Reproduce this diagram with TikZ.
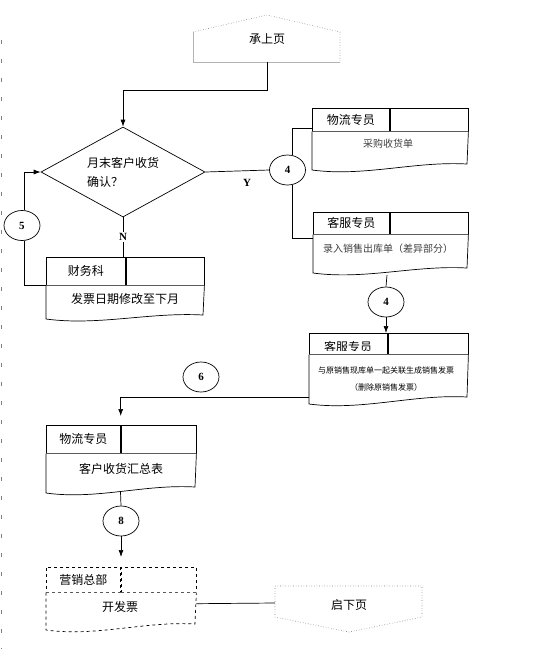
\documentclass[tikz,border=0pt]{standalone}
\usepackage{fontspec}
\setmainfont{Liberation Serif}
\newfontfamily\cjk{Noto Sans CJK SC}
\usetikzlibrary{shapes.geometric,arrows.meta}

\begin{document}
\begin{tikzpicture}[x=1pt,y=-1pt,line width=0.7pt,
    cell/.style={draw, anchor=north west, inner sep=0pt, font=\cjk\fontsize{12}{14}\selectfont},
    bodytext/.style={font=\cjk\fontsize{12}{14}\selectfont},
    smalltext/.style={font=\cjk\fontsize{10}{12}\selectfont, text=black!75},
    tinytext/.style={font=\cjk\fontsize{8}{17.5}\selectfont, align=center},
    conn/.style={draw, ellipse, minimum width=36pt, minimum height=30pt, inner sep=0pt, font=\bfseries\fontsize{11}{11}\selectfont},
    yn/.style={font=\bfseries\fontsize{11}{11}\selectfont},
    arr/.style={-{Latex[length=7pt,width=5pt]}},
    pageconn/.style={gray, dotted, line width=0.6pt}]

        \useasboundingbox (0,0) rectangle (535,649);

        %Margin
        \draw [gray, line width=0.8pt, dash pattern=on 4pt off 15pt] (1,40) -- (1,649);

        %From previous page
        \draw [gray!60, line width=0.8pt] (193,32) -- (193,62) -- (340,62);
        \draw [pageconn] (193,32) -- (267,15) -- (340,32) -- (340,62);
        \node [bodytext] (prevp) at (267,39) {承上页};
        \coordinate (prevb) at (267,62);

        %Decision
        \node [diamond, draw, minimum width=164pt, minimum height=90pt, inner sep=0pt] (dec) at (123,172) {};
        \node [font=\cjk\fontsize{12}{19}\selectfont, align=left] (dectxt) at (123,172) {月末客户收货\\确认？};

        %Logistics (purchase receipt)
        \node [cell, minimum width=77pt, minimum height=23pt] (wl1) at (312,108) {物流专员};
        \node [cell, minimum width=78pt, minimum height=23pt] (wl1e) at (wl1.north east) {};
        \draw [fill=white] (wl1.south west) -- (312,170) .. controls (364,177) and (415,161) .. (467,164) -- (wl1e.south east);
        \node [smalltext] (wl1t) at (388,144) {采购收货单};

        %Customer service (sales out)
        \node [cell, minimum width=76pt, minimum height=22pt] (kf1) at (313,212) {客服专员};
        \node [cell, minimum width=78pt, minimum height=22pt] (kf1e) at (kf1.north east) {};
        \draw [fill=white] (kf1.south west) -- (313,273) .. controls (365,280) and (415,265) .. (467,268) -- (kf1e.south east);
        \node [smalltext] (kf1t) at (388,249) {录入销售出库单（差异部分）};
        \coordinate (kf1b) at (387,275);

        %Customer service (invoice)
        \node [cell, minimum width=78pt, minimum height=21pt] (kf2) at (309,333) {};
        \node [cell, minimum width=80pt, minimum height=21pt] (kf2e) at (kf2.north east) {};
        \begin{scope}
          \clip (309,333) rectangle (387,350);
          \node [bodytext] (kf2n) at (348,346.5) {客服专员};
        \end{scope}
        \draw [fill=white] (kf2.south west) -- (309,404) .. controls (362,411) and (414,394) .. (467,397) -- (kf2e.south east);
        \node [tinytext] (kf2t) at (386,379) {与原销售现库单一起关联生成销售发票\\（删除原销售发票）};

        %Finance
        \node [cell, minimum width=79pt, minimum height=28pt] (cw) at (46,257) {财务科};
        \node [cell, minimum width=78pt, minimum height=28pt] (cwe) at (cw.north east) {};
        \draw [fill=white] (cw.south west) -- (46,319) .. controls (98,326) and (150,312) .. (203,315) -- (cwe.south east);
        \node [bodytext] (cwt) at (125,299) {发票日期修改至下月};

        %Logistics (summary)
        \node [cell, minimum width=74pt, minimum height=28pt] (wl2) at (46,425) {物流专员};
        \node [cell, minimum width=75pt, minimum height=28pt] (wl2e) at (wl2.north east) {};
        \draw [fill=white] (wl2.south west) -- (46,493) .. controls (96,500) and (145,484) .. (195,487) -- (wl2e.south east);
        \node [bodytext] (wl2t) at (121,469) {客户收货汇总表};
        \coordinate (wl2b) at (120.5,492);

        %Sales head office
        \node [cell, dashed, minimum width=74pt, minimum height=25pt] (yx) at (46,567) {营销总部};
        \node [cell, dashed, minimum width=75pt, minimum height=25pt] (yxe) at (yx.north east) {};
        \draw [dashed, fill=white] (yx.south west) -- (46,630) .. controls (96,637) and (145,621) .. (195,624) -- (yxe.south east);
        \node [bodytext] (yxt) at (120,607) {开发票};

        %To next page
        \draw [pageconn] (275,586) -- (422,586) -- (422,617) -- (349,632) -- (275,617) -- cycle;
        \node [bodytext] (nextp) at (349,605) {启下页};
        \coordinate (nextl) at (275,603);

        %Connectors
        \node [conn] (c4a) at (287.5,170) {4};
        \node [conn] (c4b) at (386,302) {4};
        \node [conn] (c5) at (22,225.5) {5};
        \node [conn] (c6) at (201,377) {6};
        \node [conn] (c8) at (121,521) {8};

        %Lines
        \draw [arr] (prevb) -- ++(0,28) -| (dec.north);
        \draw (dec.east) -- (c4a.west);
        \node [yn] (lblY) at (247,183) {Y};
        \draw (c4a.70) |- ([yshift=-8pt]wl1.west);
        \draw (c4a.-70) |- ([yshift=-4pt]kf1.south west);
        \draw (kf1b) -- (c4b.north);
        \draw [arr] (c4b.south) -- (c4b.south |- kf2e.north west);
        \draw (dec.south) -- (dec.south |- cw.north);
        \node [yn, fill=white, inner sep=1pt] (lblN) at (123,237) {N};
        \draw [arr] (c5.80) |- (dec.west);
        \draw (c5.-80) |- (cw.south west);
        \draw [arr, shorten >=9pt] ([yshift=-43pt]kf2.south west) -| (wl2.north east);
        \draw (wl2b) -- (c8.north);
        \draw [arr, shorten >=10pt] (c8.south) -- (c8.south |- yx.north east);
        \draw ([yshift=-11pt]yxe.south east) -- (nextl);

      \end{tikzpicture}
\end{document}
